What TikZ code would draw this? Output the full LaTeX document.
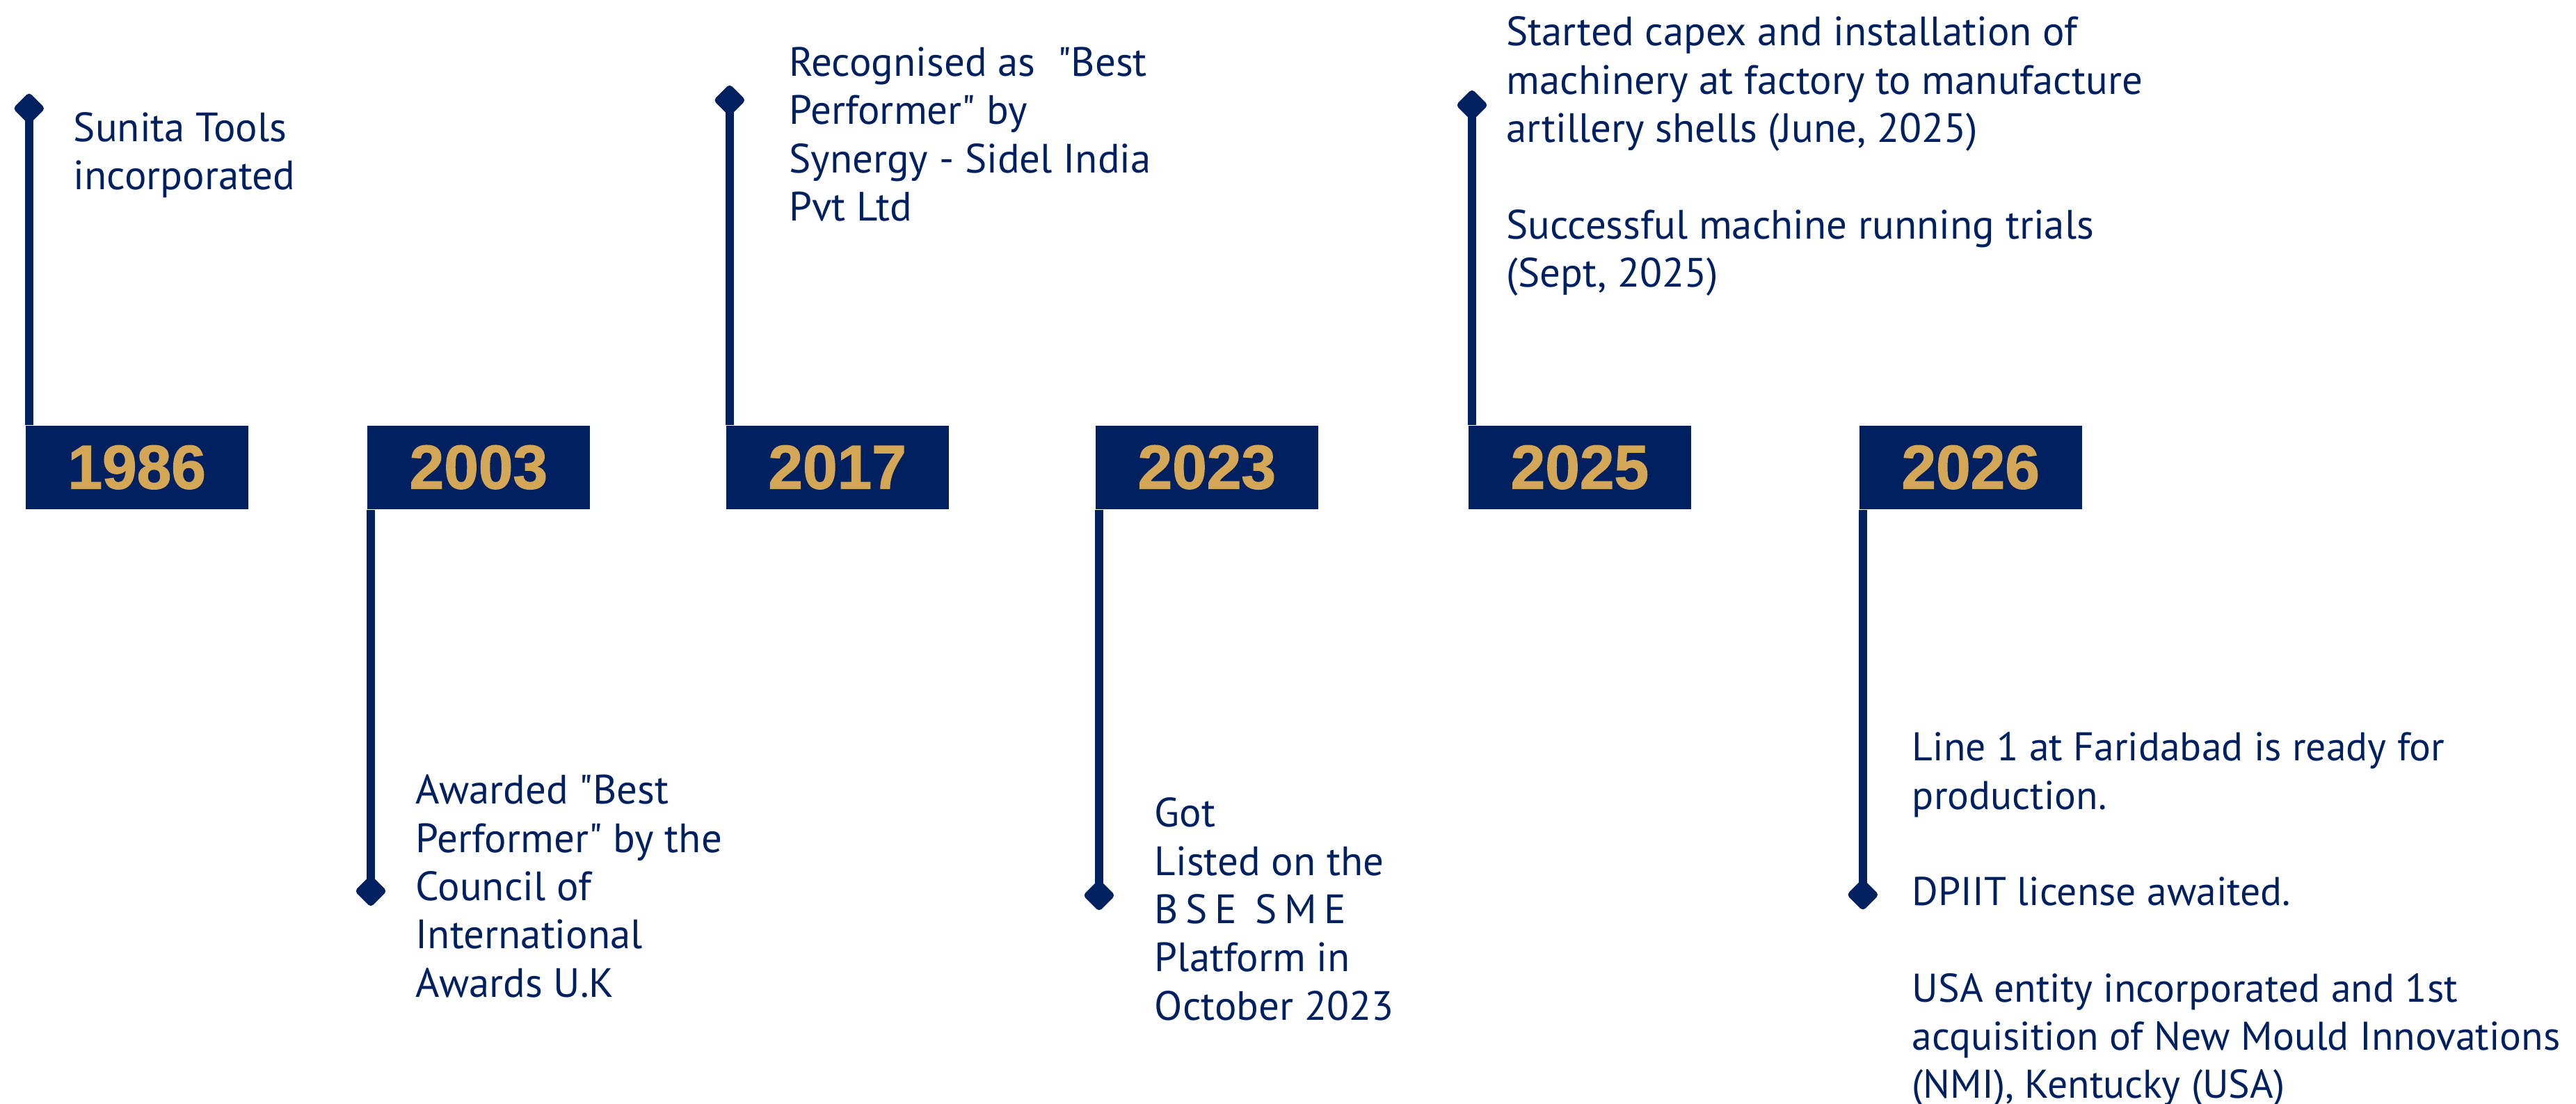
\documentclass[tikz,border=0pt]{standalone}
\usepackage{fontspec}
\setmainfont{PT Sans}[Ligatures=TeXOff]
\newfontfamily\yearfont[BoldFeatures={FakeBold=1.5}]{Liberation Sans}
\usepackage{tikz}
\usetikzlibrary{shapes.geometric}

\definecolor{navy}{HTML}{002060}
\definecolor{gold}{HTML}{D4A757}

\begin{document}
\begin{tikzpicture}[x=0.02cm, y=-0.02cm,
    yearbox/.style={rectangle, fill=navy, text=gold, anchor=north west, inner sep=0,
        minimum width=2.71cm, minimum height=1.016cm,
        font=\yearfont\bfseries\fontsize{21.5}{21.5}\selectfont},
    marker/.style={diamond, fill=navy, inner sep=0, minimum width=0.4cm, minimum height=0.4cm,
        rounded corners=1.2pt},
    stem/.style={draw=navy, line width=0.1cm},
    event/.style={anchor=base west, align=left, inner sep=0, text=navy,
        font=\fontsize{14.2}{16.7}\selectfont},
    narrow/.style={font=\fontsize{13.9}{16.7}\selectfont}]
    \useasboundingbox (0,0) rectangle (1568,672);

    % year flags
    \node[yearbox] (y1986) at (15.2,258.7) {1986};
    \node[yearbox] (y2003) at (223.2,258.7) {2003};
    \node[yearbox] (y2017) at (441.6,258.7) {2017};
    \node[yearbox] (y2023) at (666.5,258.7) {2023};
    \node[yearbox] (y2025) at (893.5,258.7) {2025};
    \node[yearbox] (y2026) at (1131.4,258.7) {2026};

    % end markers
    \node[marker] (d1986) at (17.7,66) {};
    \node[marker] (d2003) at (225.7,542.4) {};
    \node[marker] (d2017) at (444.1,61) {};
    \node[marker] (d2023) at (669,545) {};
    \node[marker] (d2025) at (896,64) {};
    \node[marker] (d2026) at (1133.9,544.6) {};

    \draw[stem] (d1986.center) -- (d1986.center |- y1986.north);
    \draw[stem] (d2003.center) -- (d2003.center |- y2003.south);
    \draw[stem] (d2017.center) -- (d2017.center |- y2017.north);
    \draw[stem] (d2023.center) -- (d2023.center |- y2023.south);
    \draw[stem] (d2025.center) -- (d2025.center |- y2025.north);
    \draw[stem] (d2026.center) -- (d2026.center |- y2026.south);

    % milestones (placed by the baseline of their last line)
    \node[event] (t1986) at (44.5,115.6) {Sunita Tools\\incorporated};
    \node[event] (t2003) at (252.8,606.8) {Awarded "Best\\Performer" by the\\Council of\\International\\Awards U.K};
    \node[event] (t2017) at (480,134.4) {Recognised as\ \ "Best\\Performer" by\\Synergy - Sidel India\\Pvt Ltd};
    \node[event] (t2023) at (702.5,620.8) {Got\\Listed on the\\{\addfontfeature{LetterSpace=18}BSE SME}\\Platform in\\October 2023};
    \node[event] (t2025) at (916.6,174.6) {Started capex and installation of\\machinery at factory to manufacture\\artillery shells (June, 2025)\\[16.7pt]Successful machine running trials\\(Sept, 2025)};
    \node[event, narrow] (t2026) at (1163.6,668.6) {Line 1 at Faridabad is ready for\\production.\\[16.7pt]DPIIT license awaited.\\[16.7pt]USA entity incorporated and 1st\\acquisition of New Mould Innovations\\(NMI), Kentucky (USA)};
\end{tikzpicture}
\end{document}
